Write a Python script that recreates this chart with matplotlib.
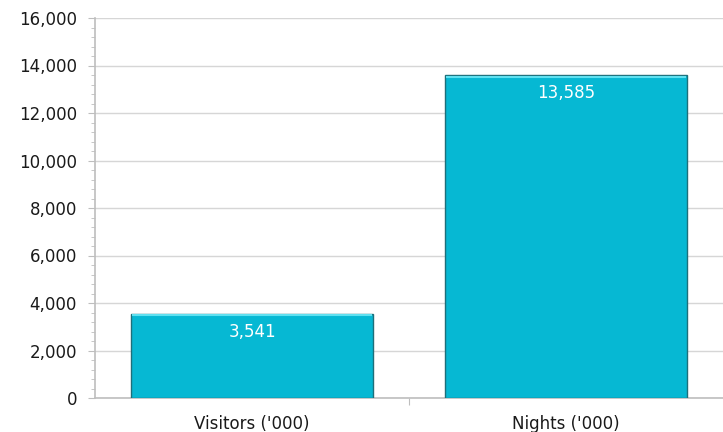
import matplotlib.pyplot as plt
from matplotlib.ticker import FuncFormatter, MultipleLocator

categories = ["Visitors ('000)", "Nights ('000)"]
values = [3541, 13585]

fig = plt.figure(figsize=(7.23, 4.32), dpi=100)
ax = fig.add_axes([95 / 723, 34 / 432, 628 / 723, 380 / 432])

positions = range(len(categories))
bars = ax.bar(positions, values, width=0.77, color="#06B8D3",
              edgecolor="#1D6F7A", linewidth=1.0, zorder=3)

# light highlight along the top of each bar
for rect in bars:
    x0 = rect.get_x()
    w = rect.get_width()
    h = rect.get_height()
    ax.plot([x0 + 0.004, x0 + w - 0.004], [h - 60, h - 60],
            color="#5FE0F0", linewidth=1.5, zorder=4, solid_capstyle="butt")

for rect, v in zip(bars, values):
    ax.text(rect.get_x() + rect.get_width() / 2, v - 380, f"{v:,}",
            ha="center", va="top", color="white", fontsize=12,
            family="DejaVu Sans", zorder=5)

ax.set_xlim(-0.5, len(categories) - 0.5)
ax.set_ylim(0, 16000)
ax.yaxis.set_major_locator(MultipleLocator(2000))
ax.yaxis.set_minor_locator(MultipleLocator(400))
ax.yaxis.set_major_formatter(FuncFormatter(lambda v, p: f"{int(v):,}"))

ax.set_xticks([0.5], minor=False)
ax.set_xticklabels([""])
ax.set_xticks(list(positions), minor=True)
ax.set_xticklabels(categories, minor=True)
ax.tick_params(axis="x", which="minor", length=0, pad=12, labelsize=12)
ax.tick_params(axis="x", which="major", length=5, color="#BEBEBE")
ax.tick_params(axis="y", which="major", length=5, color="#BEBEBE", labelsize=12, pad=8)
ax.tick_params(axis="y", which="minor", length=3, color="#BEBEBE")

for lbl in ax.get_xticklabels(minor=True) + ax.get_yticklabels():
    lbl.set_family("DejaVu Sans")
    lbl.set_color("#1A1A1A")

ax.grid(axis="y", which="major", color="#D6D6D6", linewidth=1.0, zorder=0)
for side in ["top", "right"]:
    ax.spines[side].set_visible(False)
for side in ["left", "bottom"]:
    ax.spines[side].set_color("#BEBEBE")
    ax.spines[side].set_linewidth(1.2)

fig.savefig("out.png", dpi=100)
